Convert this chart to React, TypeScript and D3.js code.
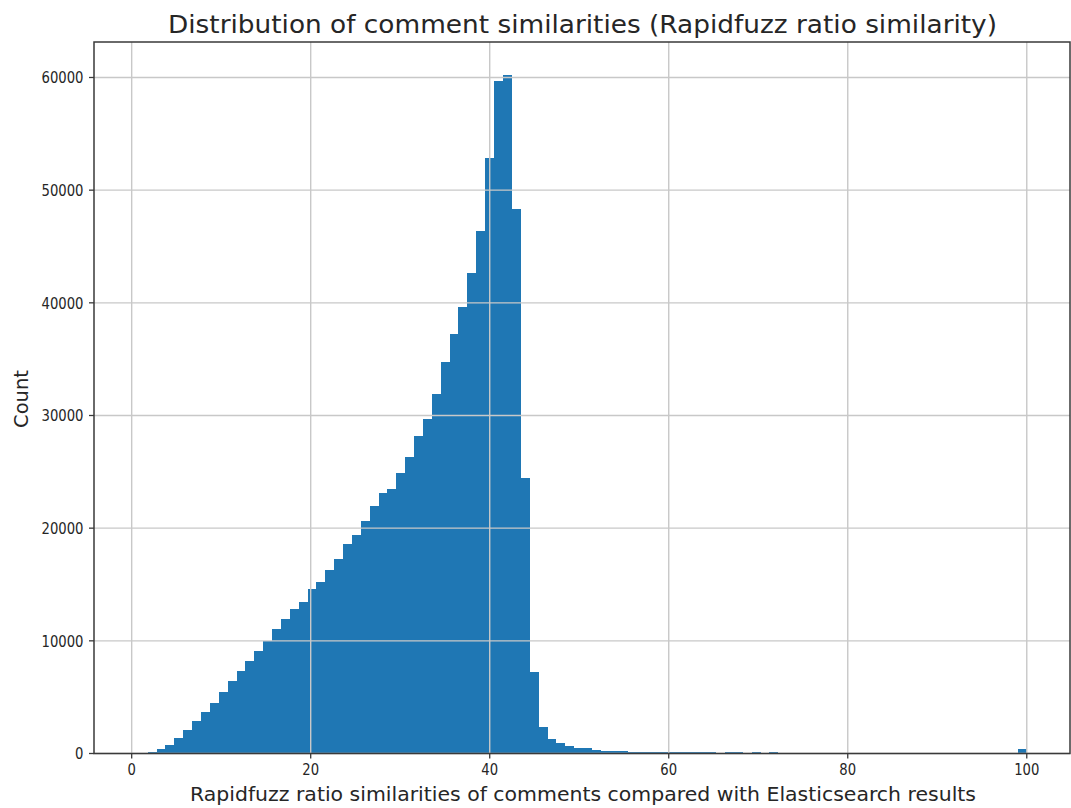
import React from 'react';
import * as d3 from 'd3';

const counts: number[] = [
  10, 100, 370, 750, 1400, 2080, 2850, 3700, 4500, 5500,
  6430, 7320, 8230, 9120, 10000, 11040, 11900, 12790, 13440, 14560,
  15240, 16270, 17280, 18580, 19380, 20680, 21950, 23130, 23520, 24940,
  26320, 28190, 29730, 31880, 34750, 37210, 39630, 42640, 46340, 52840,
  59730, 60200, 48320, 24410, 7260, 2320, 1310, 900, 670, 520,
  460, 330, 250, 240, 220, 150, 140, 140, 130, 130,
  130, 120, 120, 120, 110, 30, 130, 130, 20, 120,
  20, 120, 0, 0, 0, 0, 0, 0, 0, 0,
  0, 0, 0, 0, 0, 0, 0, 0, 0, 0,
  0, 0, 0, 0, 0, 0, 0, 0, 0, 380,
];
const binMin = 0.8;
const binMax = 100;
const xTicks = [0, 20, 40, 60, 80, 100];
const yTicks = [0, 10000, 20000, 30000, 40000, 50000, 60000];
const titleText = 'Distribution of comment similarities (Rapidfuzz ratio similarity)';
const xLabelText = 'Rapidfuzz ratio similarities of comments compared with Elasticsearch results';
const yLabelText = 'Count';

export default function App() {
  const W = 1071, H = 808;
  const left = 94, right = 1070, top = 42, bottom = 753.5;
  const x = d3.scaleLinear().domain([-4.21, 104.83]).range([left, right]);
  const y = d3.scaleLinear().domain([0, 63150]).range([bottom, top]);
  const binW = (binMax - binMin) / counts.length;
  const textColor = '#262626';
  const font = 'DejaVu Sans, sans-serif';
  const digitW = 8.4;

  return (
    <svg width={W} height={H} style={{ position: 'absolute', left: 0, top: 0, background: '#fff' }}
      fontFamily={font}>
      <rect x={0} y={0} width={W} height={H} fill="#fff" />
      <g fill="#1f77b4" shapeRendering="crispEdges">
        {counts.map((c, i) => {
          if (c <= 0) return null;
          const x0 = x(binMin + i * binW);
          const x1 = x(binMin + (i + 1) * binW);
          return <rect key={i} x={x0} y={y(c)} width={x1 - x0 + 0.3} height={bottom - y(c)} />;
        })}
      </g>
      <g stroke="#c8c8c8" strokeWidth={1.4}>
        {xTicks.map((t) => (
          <line key={'gx' + t} x1={x(t)} x2={x(t)} y1={top} y2={bottom} />
        ))}
        {yTicks.map((t) => (
          <line key={'gy' + t} x1={left} x2={right} y1={y(t)} y2={y(t)} />
        ))}
      </g>
      <rect x={left} y={top} width={right - left} height={bottom - top} fill="none" stroke="#3a3a3a" strokeWidth={1.5} />
      <g>
        {xTicks.map((t) => (
          <g key={'xt' + t}>
            <line x1={x(t)} x2={x(t)} y1={bottom} y2={bottom + 5} stroke="#3a3a3a" strokeWidth={1.3} />
            <text x={x(t)} y={775} textAnchor="middle" fontSize={15.5} fill={textColor}
              textLength={String(t).length * digitW} lengthAdjust="spacingAndGlyphs">{t}</text>
          </g>
        ))}
      </g>
      <g>
        {yTicks.map((t) => (
          <g key={'yt' + t}>
            <line x1={left - 5} x2={left} y1={y(t)} y2={y(t)} stroke="#3a3a3a" strokeWidth={1.3} />
            <text x={83.5} y={y(t) + 5.7} textAnchor="end" fontSize={15.5} fill={textColor}
              textLength={String(t).length * digitW} lengthAdjust="spacingAndGlyphs">{t}</text>
          </g>
        ))}
      </g>
      <text x={582.5} y={33} textAnchor="middle" fontSize={25} fill={textColor}
        textLength={829} lengthAdjust="spacingAndGlyphs">{titleText}</text>
      <text x={583} y={801} textAnchor="middle" fontSize={20} fill={textColor}
        textLength={786} lengthAdjust="spacingAndGlyphs">{xLabelText}</text>
      <text transform={`translate(28,399) rotate(-90)`} textAnchor="middle" fontSize={19} fill={textColor}
        textLength={58} lengthAdjust="spacingAndGlyphs">{yLabelText}</text>
    </svg>
  );
}
